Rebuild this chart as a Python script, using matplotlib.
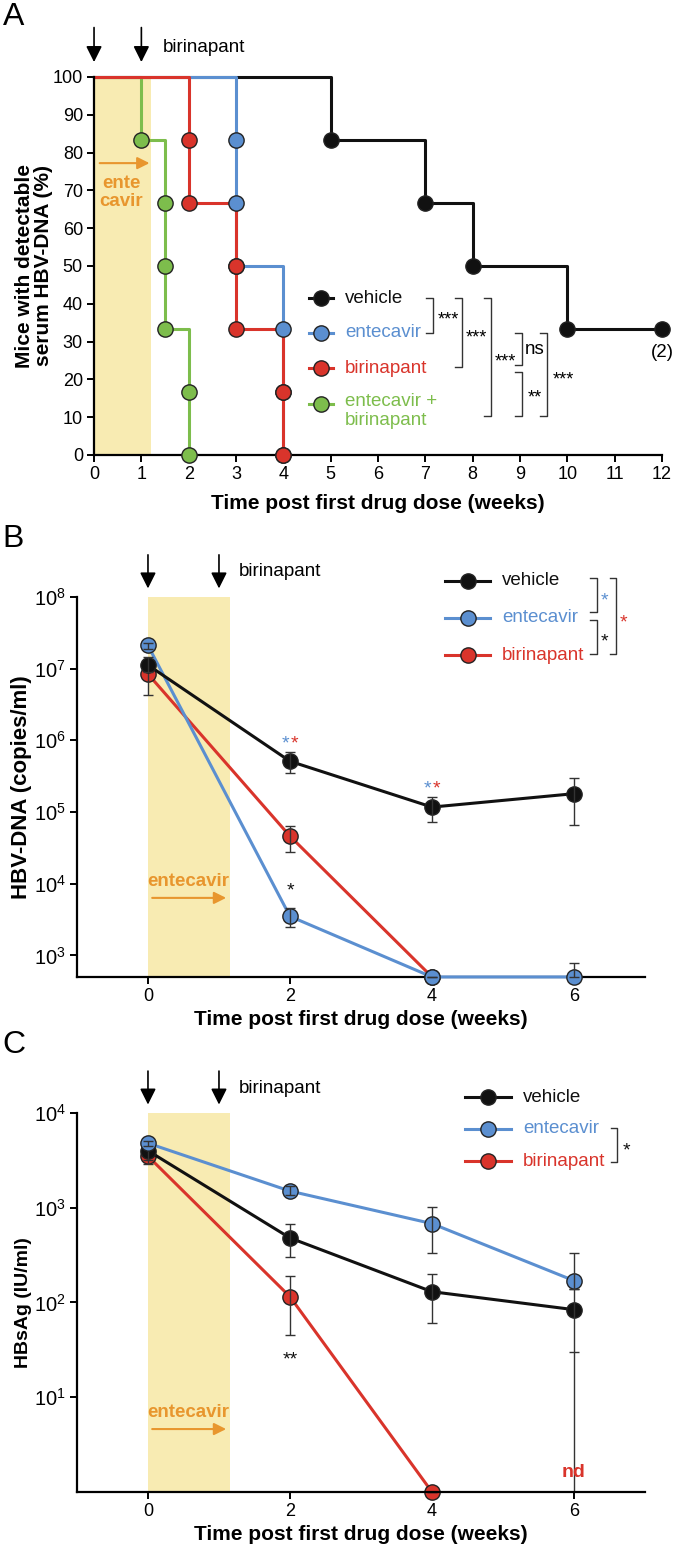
import math
import matplotlib
matplotlib.use("Agg")
import matplotlib.pyplot as plt
from matplotlib.lines import Line2D
from matplotlib.ticker import NullLocator

plt.rcParams['font.family'] = ['Liberation Sans', 'DejaVu Sans']
plt.rcParams['mathtext.fontset'] = 'custom'
plt.rcParams['mathtext.rm'] = 'Liberation Sans'
plt.rcParams['mathtext.it'] = 'Liberation Sans:italic'
plt.rcParams['mathtext.bf'] = 'Liberation Sans:bold'

## Colours ##
BLACK = '#111111'
BLUE = '#5b8fd0'
RED = '#d9342b'
GREEN = '#7dbd4c'
ORANGE = '#e8962e'
SHADE = '#f8ebb2'
EDGE = '#222222'
ERR = '#333333'

## Panel A data (Kaplan-Meier, % mice with detectable HBV-DNA) ##
km_names = ['vehicle', 'entecavir', 'birinapant', 'entecavir +\nbirinapant']
km_colors = [BLACK, BLUE, RED, GREEN]

veh_t = [0, 5, 7, 8, 10, 12]
veh_p = [100, 83.3, 66.7, 50, 33.3, 33.3]
veh_mt = [5, 7, 8, 10, 12]
veh_mp = [83.3, 66.7, 50, 33.3, 33.3]

ent_t = [0, 3, 4]
ent_p = [100, 50, 0]
ent_mt = [3, 3, 3, 4, 4, 4]
ent_mp = [83.3, 66.7, 50, 33.3, 16.7, 0]

bir_t = [0, 2, 3, 4]
bir_p = [100, 66.7, 33.3, 0]
bir_mt = [2, 2, 3, 3, 4, 4]
bir_mp = [83.3, 66.7, 50, 33.3, 16.7, 0]

combo_t = [0, 1, 1.5, 2]
combo_p = [100, 83.3, 33.3, 0]
combo_mt = [1, 1.5, 1.5, 1.5, 2, 2]
combo_mp = [83.3, 66.7, 50, 33.3, 16.7, 0]

## Panel B data (HBV-DNA copies/ml) ##
weeks = [0, 2, 4, 6]
b_veh = [1.12e7, 5.1e5, 1.17e5, 1.8e5]
b_veh_lo = [9.0e6, 3.5e5, 7.3e4, 6.6e4]
b_veh_hi = [1.45e7, 6.8e5, 1.6e5, 3.0e5]
b_ent = [2.1e7, 3.5e3, 500, 500]
b_ent_lo = [1.9e7, 2.5e3, 500, 500]
b_ent_hi = [2.3e7, 4.6e3, 500, 780]
b_bir = [8.4e6, 4.6e4, 500]
b_bir_lo = [4.3e6, 2.8e4, 500]
b_bir_hi = [1.0e7, 6.3e4, 500]

## Panel C data (HBsAg IU/ml) ##
c_veh = [4.0e3, 480, 130, 84]
c_veh_lo = [3.2e3, 300, 61, 30]
c_veh_hi = [4.8e3, 680, 200, 140]
c_ent = [4.8e3, 1.5e3, 680, 170]
c_ent_lo = [4.5e3, 1.35e3, 330, 140]
c_ent_hi = [5.1e3, 1.7e3, 1.02e3, 330]
c_bir = [3.5e3, 115, 1]
c_bir_lo = [2.9e3, 45, 1]
c_bir_hi = [3.8e3, 190, 1]

fs = 13.5      # legend / annotation text
tfs = 13       # tick labels
lfs = 15       # axis labels


def style_axes(ax):
    for s in ('top', 'right'):
        ax.spines[s].set_visible(False)
    for s in ('left', 'bottom'):
        ax.spines[s].set_linewidth(1.6)
    ax.tick_params(direction='out', length=5, width=1.4, labelsize=tfs, pad=3)


def legend_row(ax, fx, fy, color, hw=0.04):
    ax.add_line(Line2D([fx - hw, fx + hw], [fy, fy], transform=ax.transAxes, color=color,
                       lw=2.2, clip_on=False))
    ax.plot([fx], [fy], transform=ax.transAxes, marker='o', ms=11, color=color, mec=EDGE,
            mew=1, clip_on=False)


def bracket(ax, x, y0, y1, tick=0.012, lw=1.0):
    ax.plot([x - tick, x, x, x - tick], [y0, y0, y1, y1], transform=ax.transAxes,
            color='#333333', lw=lw, clip_on=False)


def dose_arrows(ax, ytop, ybot):
    tr = ax.get_xaxis_transform()
    for xx in (0, 1):
        ax.annotate('', xy=(xx, ybot), xytext=(xx, ytop), xycoords=tr, textcoords=tr,
                    arrowprops=dict(arrowstyle='-|>', color='black', lw=1.2, mutation_scale=24),
                    annotation_clip=False)


fig = plt.figure(figsize=(6.77, 15.48), dpi=100)

#### Panel A ####
axA = fig.add_axes([0.1389, 0.7061, 0.8390, 0.2442])
style_axes(axA)
axA.axvspan(0, 1.2, ymin=0, ymax=1, color=SHADE, lw=0, zorder=0)

series = [(veh_t, veh_p, veh_mt, veh_mp, BLACK),
          (combo_t, combo_p, combo_mt, combo_mp, GREEN),
          (ent_t, ent_p, ent_mt, ent_mp, BLUE),
          (bir_t, bir_p, bir_mt, bir_mp, RED)]
for i, (t, p, mt, mp, c) in enumerate(series):
    axA.plot(t, p, drawstyle='steps-post', color=c, lw=2.2, zorder=2 + i * 0.1, clip_on=False)
for i, (t, p, mt, mp, c) in enumerate(series):
    axA.plot(mt, mp, 'o', ms=11, color=c, mec=EDGE, mew=1, zorder=4 + i * 0.1, clip_on=False)

axA.set_xlim(0, 12)
axA.set_ylim(0, 100)
axA.set_xticks(range(0, 13))
axA.set_yticks(range(0, 101, 10))
axA.set_xlabel('Time post first drug dose (weeks)', fontsize=lfs, fontweight='bold')
axA.xaxis.set_label_coords(0.5, -0.104)
axA.xaxis.label.set_va('top')
axA.set_ylabel('Mice with detectable\nserum HBV-DNA (%)', fontsize=lfs, fontweight='bold',
               linespacing=1.0)
axA.yaxis.set_label_coords(-0.072, 0.5)

dose_arrows(axA, 1.138, 1.032)
trA = axA.get_xaxis_transform()
axA.text(1.46, 1.077, 'birinapant', transform=trA, fontsize=fs, va='center', ha='left')
axA.annotate('', xy=(1.23, 77.2), xytext=(0.06, 77.2),
             arrowprops=dict(arrowstyle='-|>', color=ORANGE, lw=1.5, mutation_scale=18))
axA.text(0.57, 69.5, 'ente\ncavir', color=ORANGE, fontsize=fs, fontweight='bold',
         ha='center', va='center', linespacing=1.05)
axA.text(12, 27.2, '(2)', fontsize=fs, ha='center', va='center')

# legend A
rowsA = [0.415, 0.323, 0.230, 0.135]
for name, c, fy in zip(km_names, km_colors, rowsA):
    legend_row(axA, 0.400, fy, c, hw=0.021)
    if '\n' in name:
        axA.text(0.442, fy + 0.030, name, transform=axA.transAxes, color=c, fontsize=fs,
                 va='top', ha='left', linespacing=1.15)
    else:
        axA.text(0.442, fy, name, transform=axA.transAxes, color=c, fontsize=fs,
                 va='center', ha='left')

bracketsA = [(0.597, 0.415, 0.323, '***', 0.623, 0.370),
             (0.648, 0.415, 0.233, '***', 0.674, 0.323),
             (0.699, 0.415, 0.103, '***', 0.724, 0.259),
             (0.754, 0.323, 0.238, 'ns', 0.776, 0.278),
             (0.754, 0.220, 0.103, '**', 0.776, 0.164),
             (0.798, 0.323, 0.103, '***', 0.826, 0.212)]
for x, y0, y1, s, tx, ty in bracketsA:
    bracket(axA, x, y0, y1)
    if s == 'ns':
        axA.text(tx, ty, s, transform=axA.transAxes, fontsize=fs, ha='center', va='center')
    else:
        axA.text(tx, ty - 0.014, s, transform=axA.transAxes, fontsize=13, ha='center', va='center')


#### Panels B and C ####
def series_plot(ax, y, lo, hi, c, z):
    x = weeks[:len(y)]
    yerr = [[m - l for m, l in zip(y, lo)], [h - m for m, h in zip(y, hi)]]
    ax.plot(x, y, color=c, lw=2.2, zorder=z, clip_on=False)
    ax.errorbar(x, y, yerr=yerr, fmt='none', ecolor=ERR, elinewidth=1, capsize=3.5,
                capthick=1, zorder=z + 0.5, clip_on=False)
    ax.plot(x, y, 'o', ms=11, color=c, mec=EDGE, mew=1, zorder=z + 0.3, clip_on=False)


def log_panel(ax, ylim, yticks):
    style_axes(ax)
    ax.set_yscale('log')
    ax.set_ylim(*ylim)
    ax.set_xlim(-1, 7)
    ax.set_xticks([0, 2, 4, 6])
    ax.set_yticks(yticks)
    ax.set_yticklabels([r'$10^{%d}$' % round(math.log10(v)) for v in yticks], fontsize=14.5)
    ax.yaxis.set_minor_locator(NullLocator())
    ax.axvspan(0, 1.15, color=SHADE, lw=0, zorder=0)
    ax.set_xlabel('Time post first drug dose (weeks)', fontsize=lfs, fontweight='bold')
    ax.xaxis.set_label_coords(0.5, -0.088)
    ax.xaxis.label.set_va('top')
    dose_arrows(ax, 1.118, 1.015)
    ax.text(1.28, 1.066, 'birinapant', transform=ax.get_xaxis_transform(), fontsize=fs,
            va='center', ha='left')


def legend3(ax, hx, lx, rows):
    for name, c, fy in zip(km_names[:3], km_colors[:3], rows):
        legend_row(ax, hx, fy, c, hw=0.04)
        ax.text(lx, fy, name, transform=ax.transAxes, color=c, fontsize=fs,
                va='center', ha='left')


axB = fig.add_axes([0.1137, 0.3689, 0.8390, 0.2455])
log_panel(axB, (500, 1e8), [1e3, 1e4, 1e5, 1e6, 1e7, 1e8])
series_plot(axB, b_bir, b_bir_lo, b_bir_hi, RED, 2)
series_plot(axB, b_ent, b_ent_lo, b_ent_hi, BLUE, 3)
series_plot(axB, b_veh, b_veh_lo, b_veh_hi, BLACK, 4)
axB.set_ylabel('HBV-DNA (copies/ml)', fontsize=16, fontweight='bold')
axB.yaxis.set_label_coords(-0.080, 0.5)
trB = axB.get_xaxis_transform()
axB.annotate('', xy=(1.14, 0.208), xytext=(0.02, 0.208), xycoords=trB, textcoords=trB,
             arrowprops=dict(arrowstyle='-|>', color=ORANGE, lw=1.5, mutation_scale=18))
axB.text(0.57, 0.25, 'entecavir', transform=trB, color=ORANGE, fontsize=fs,
         fontweight='bold', ha='center', va='center')
# stars at data points
for wx, wy in ((2, 9.0e5), (4, 2.1e5)):
    axB.text(wx - 0.06, wy, '*', color=BLUE, fontsize=14, ha='center', va='center')
    axB.text(wx + 0.07, wy, '*', color=RED, fontsize=14, ha='center', va='center')
axB.text(2, 8.0e3, '*', color=BLACK, fontsize=14, ha='center', va='center')

legend3(axB, 0.688, 0.748, [1.042, 0.945, 0.847])
bracket(axB, 0.915, 1.050, 0.961, tick=0.011)
axB.text(0.928, 0.990, '*', transform=axB.transAxes, color=BLUE, fontsize=14, ha='center', va='center')
bracket(axB, 0.915, 0.939, 0.850, tick=0.011)
axB.text(0.928, 0.882, '*', transform=axB.transAxes, color=BLACK, fontsize=14, ha='center', va='center')
bracket(axB, 0.949, 1.050, 0.850, tick=0.011)
axB.text(0.963, 0.932, '*', transform=axB.transAxes, color=RED, fontsize=14, ha='center', va='center')

axC = fig.add_axes([0.1137, 0.0362, 0.8390, 0.2448])
log_panel(axC, (1, 1e4), [10, 100, 1e3, 1e4])
axC.vlines(weeks[3], 1, c_veh_lo[3], color=ERR, lw=1, zorder=1)
series_plot(axC, c_bir, c_bir_lo, c_bir_hi, RED, 2)
series_plot(axC, c_veh, c_veh_lo, c_veh_hi, BLACK, 3)
series_plot(axC, c_ent, c_ent_lo, c_ent_hi, BLUE, 4)
axC.set_ylabel('HBsAg (IU/ml)', fontsize=14, fontweight='bold')
axC.yaxis.set_label_coords(-0.080, 0.5)
trC = axC.get_xaxis_transform()
axC.annotate('', xy=(1.14, 0.166), xytext=(0.02, 0.166), xycoords=trC, textcoords=trC,
             arrowprops=dict(arrowstyle='-|>', color=ORANGE, lw=1.5, mutation_scale=18))
axC.text(0.57, 0.211, 'entecavir', transform=trC, color=ORANGE, fontsize=fs,
         fontweight='bold', ha='center', va='center')
axC.text(2, 25, '**', color=BLACK, fontsize=14, ha='center', va='center')
axC.text(6, 1.6, 'nd', color=RED, fontsize=14, fontweight='bold', ha='center', va='center')

legend3(axC, 0.724, 0.785, [1.042, 0.958, 0.873])
bracket(axC, 0.951, 0.960, 0.871, tick=0.011)
axC.text(0.967, 0.900, '*', transform=axC.transAxes, color=BLACK, fontsize=14, ha='center', va='center')

# panel letters
fig.text(0.004, 1 - 2 / 1548, 'A', fontsize=23, va='top', ha='left')
fig.text(0.004, 1 - 524 / 1548, 'B', fontsize=23, va='top', ha='left')
fig.text(0.004, 1 - 1030 / 1548, 'C', fontsize=23, va='top', ha='left')

fig.savefig('out.png', dpi=100)
